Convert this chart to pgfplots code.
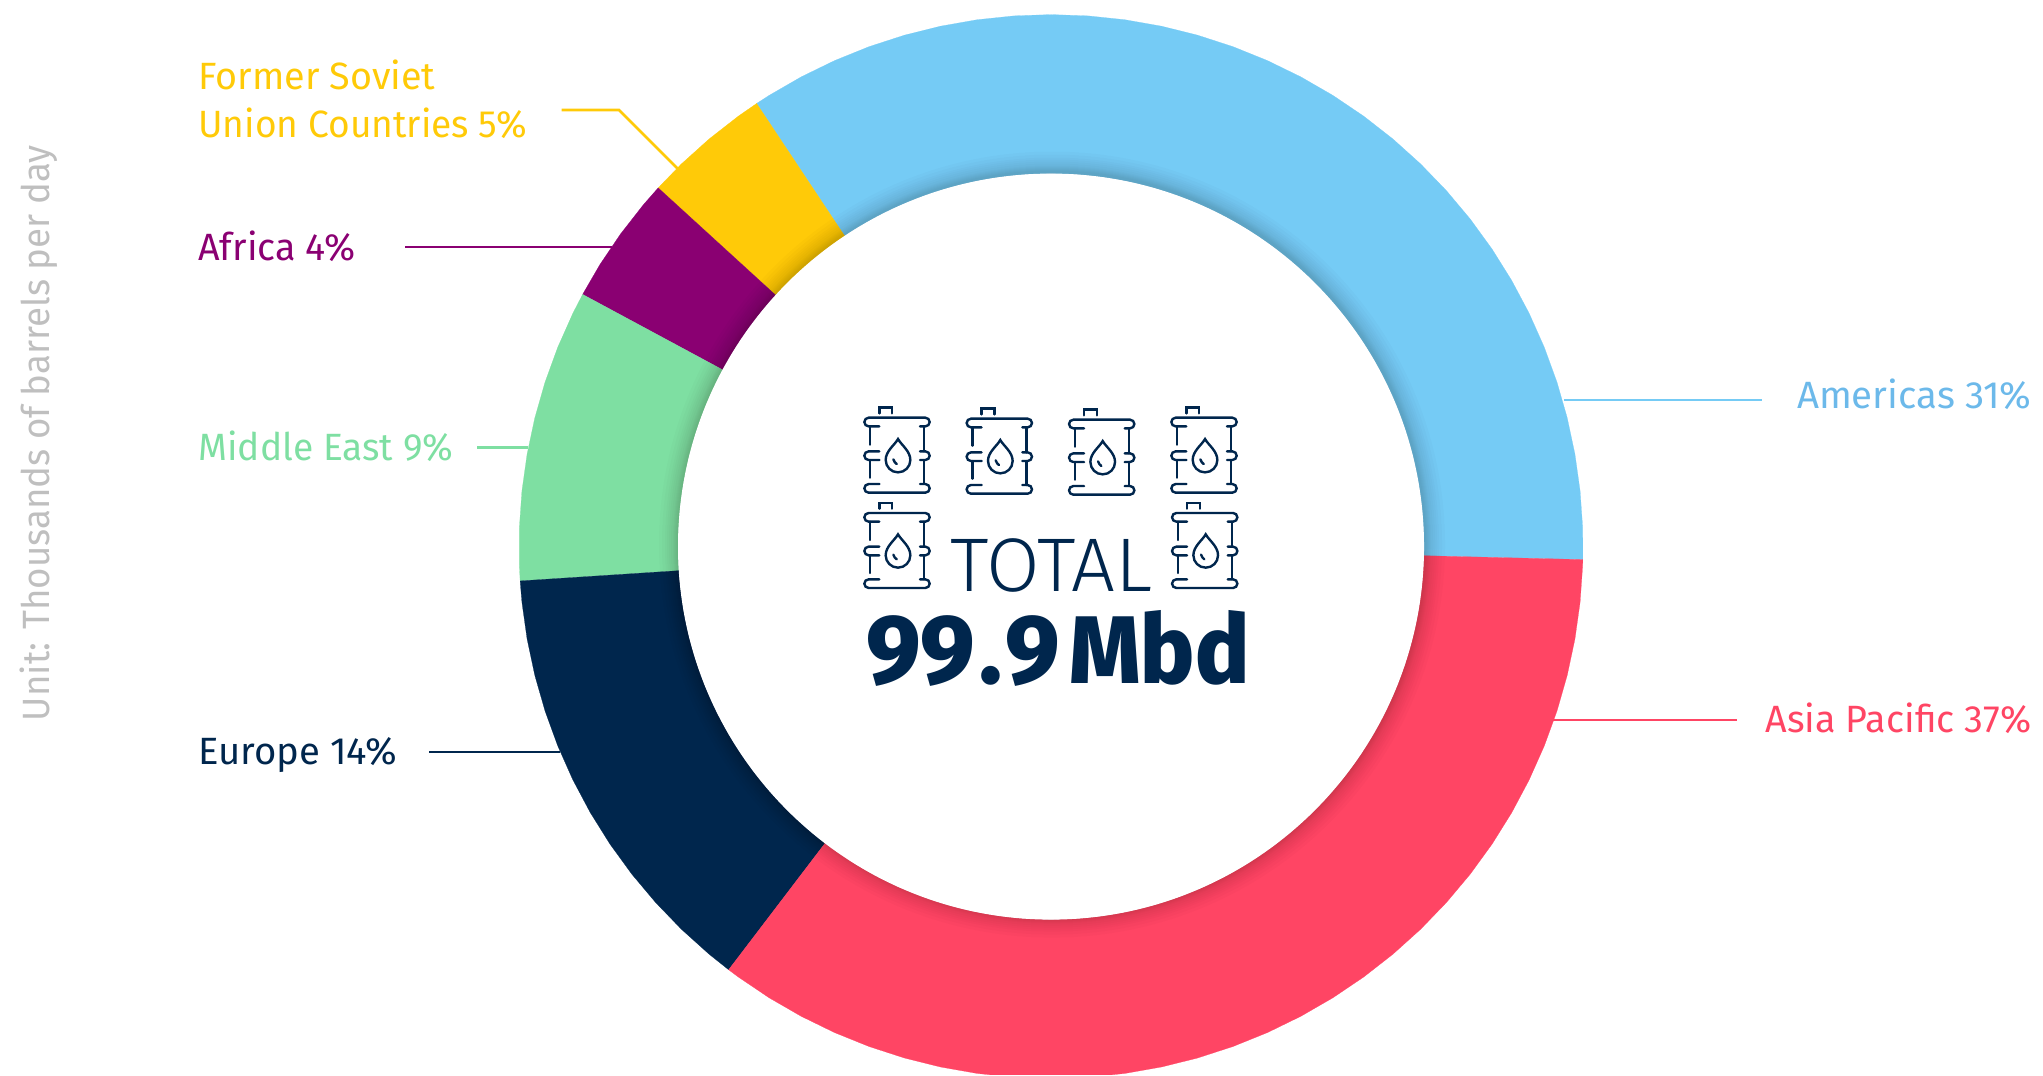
\documentclass[border=0pt]{standalone}
\usepackage{pgfplots}
\pgfplotsset{compat=1.18}
\usepackage{fontspec}
\setmainfont{Fira Sans}
\newfontfamily\firalight{Fira Sans Light}
\newfontfamily\firaheavy{Fira Sans ExtraBold}
\definecolor{cAm}{HTML}{75CBF5}
\definecolor{cAmT}{HTML}{6CB9EA}
\definecolor{cAs}{HTML}{FF4564}
\definecolor{cFs}{HTML}{FFCA08}
\definecolor{cAf}{HTML}{8A0072}
\definecolor{cMe}{HTML}{7EDFA2}
\definecolor{cEu}{HTML}{00264D}
\definecolor{cGr}{HTML}{BFBFBF}
\newcommand\lab[5]{\node[anchor=#1,inner sep=0pt,text=#2] at (#3) {\resizebox{#4pt}{\height}{\fontsize{19}{22}\selectfont #5}};}
\newcommand\barrel[2]{\begin{scope}[shift={(#1,#2)},x=0.16667pt,y=-0.16667pt,line width=1.2pt,cEu,line cap=round]
\draw (46,17)--(46,0)--(84,0)--(84,17);
\draw (46,56)--(14,56) arc[start angle=90,end angle=270,radius=13]--(184,30) arc[start angle=-90,end angle=90,radius=13]--(168,56);
\draw (18,56)--(18,111) (18,157)--(18,210);
\draw (46,131)--(14,131) arc[start angle=-90,end angle=-270,radius=13]--(46,157);
\draw (168,131)--(184,131) arc[start angle=-90,end angle=90,radius=13]--(168,157);
\draw (46,229)--(14,229) arc[start angle=-90,end angle=-270,radius=13]--(184,255) arc[start angle=90,end angle=-90,radius=13]--(168,229);
\draw (180,56)--(180,131) (180,157)--(180,229);
\draw (102,94) .. controls (92,112) and (65,130) .. (65,157) arc[start angle=180,end angle=0,radius=37] .. controls (139,130) and (112,112) .. (102,94) -- cycle;
\draw (88,155) .. controls (90,162) and (94,166) .. (98,169);
\end{scope}}
\begin{document}
\begin{tikzpicture}
\useasboundingbox (0,0) rectangle (1021.5pt,537.5pt);
\begin{axis}[at={(0,0)},anchor=south west,x=0.5pt,y=0.5pt,xmin=-1051,xmax=992,ymin=-528.4,ymax=546.6,hide axis,clip=true,data cs=polar]
% Americas
\addplot[fill=cAm,draw=cAm,line width=0.1pt] coordinates {(-1.4,532)(2,532)(6,532)(10,532)(14,532)(18,532)(22,532)(26,532)(30,532)(34,532)(38,532)(42,532)(46,532)(50,532)(54,532)(58,532)(62,532)(66,532)(70,532)(74,532)(78,532)(82,532)(86,532)(90,532)(94,532)(98,532)(102,532)(106,532)(110,532)(114,532)(118,532)(122,532)(123.6,532)
(123.6,373)(122,373)(118,373)(114,373)(110,373)(106,373)(102,373)(98,373)(94,373)(90,373)(86,373)(82,373)(78,373)(74,373)(70,373)(66,373)(62,373)(58,373)(54,373)(50,373)(46,373)(42,373)(38,373)(34,373)(30,373)(26,373)(22,373)(18,373)(14,373)(10,373)(6,373)(2,373)(-1.4,373)} --cycle;
% Former Soviet Union
\addplot[fill=cFs,draw=cFs,line width=0.1pt] coordinates {(123.6,532)(126,532)(130,532)(134,532)(137.6,532)(137.6,373)(134,373)(130,373)(126,373)(123.6,373)} --cycle;
% Africa
\addplot[fill=cAf,draw=cAf,line width=0.1pt] coordinates {(137.6,532)(140,532)(144,532)(148,532)(151.7,532)(151.7,373)(148,373)(144,373)(140,373)(137.6,373)} --cycle;
% Middle East
\addplot[fill=cMe,draw=cMe,line width=0.1pt] coordinates {(151.7,532)(154,532)(158,532)(162,532)(166,532)(170,532)(174,532)(178,532)(182,532)(183.7,532)(183.7,373)(182,373)(178,373)(174,373)(170,373)(166,373)(162,373)(158,373)(154,373)(151.7,373)} --cycle;
% Europe
\addplot[fill=cEu,draw=cEu,line width=0.1pt] coordinates {(183.7,532)(186,532)(190,532)(194,532)(198,532)(202,532)(206,532)(210,532)(214,532)(218,532)(222,532)(226,532)(230,532)(232.7,532)(232.7,373)(230,373)(226,373)(222,373)(218,373)(214,373)(210,373)(206,373)(202,373)(198,373)(194,373)(190,373)(186,373)(183.7,373)} --cycle;
% Asia Pacific
\addplot[fill=cAs,draw=cAs,line width=0.1pt] coordinates {(232.7,532)(234,532)(238,532)(242,532)(246,532)(250,532)(254,532)(258,532)(262,532)(266,532)(270,532)(274,532)(278,532)(282,532)(286,532)(290,532)(294,532)(298,532)(302,532)(306,532)(310,532)(314,532)(318,532)(322,532)(326,532)(330,532)(334,532)(338,532)(342,532)(346,532)(350,532)(354,532)(358,532)(358.6,532)
(358.6,373)(358,373)(354,373)(350,373)(346,373)(342,373)(338,373)(334,373)(330,373)(326,373)(322,373)(318,373)(314,373)(310,373)(306,373)(302,373)(298,373)(294,373)(290,373)(286,373)(282,373)(278,373)(274,373)(270,373)(266,373)(262,373)(258,373)(254,373)(250,373)(246,373)(242,373)(238,373)(234,373)(232.7,373)} --cycle;
% inner shadow
\foreach \r in {1,2,3,4,5,6,8,10,12,14,17,20}{\edef\tmp{\noexpand\fill[black,opacity=0.014] (axis cs:1,2) circle[radius=373+\r];}\tmp}
\fill[white] (axis cs:0,0) circle[radius=373];
% leader lines
\addplot[cFs,line width=1.35pt,data cs=cart] coordinates {(-489.4,436.6)(-432,436.6)(-373.5,378.1)};
\addplot[cAf,line width=1.35pt,data cs=cart] coordinates {(-646,299.6)(-439,299.6)};
\addplot[cMe,line width=1.35pt,data cs=cart] coordinates {(-574,99.1)(-523,99.1)};
\addplot[cEu,line width=1.35pt,data cs=cart] coordinates {(-622,-205.4)(-491,-205.4)};
\addplot[cAm,line width=1.35pt,data cs=cart] coordinates {(513,146.6)(711,146.6)};
\addplot[cAs,line width=1.35pt,data cs=cart] coordinates {(502,-173.4)(686,-173.4)};
\end{axis}
\begin{scope}[shift={(0,537.5pt)},x=0.5pt,y=-0.5pt]
\lab{base west}{cFs}{198,90}{118.5}{Former Soviet}
\lab{base west}{cFs}{198,138}{164.5}{Union Countries 5\%}
\lab{base west}{cAf}{198,260.5}{78.5}{Africa 4\%}
\lab{base west}{cMe}{198,461}{127.5}{Middle East 9\%}
\lab{base west}{cEu}{198,765}{99.5}{Europe 14\%}
\lab{base east}{cAmT}{2032,409}{117.3}{Americas 31\%}
\lab{base east}{cAs}{2032,733}{133}{Asia Pacific 37\%}
\node[anchor=base west,inner sep=0pt,text=cGr,rotate=90] at (49.5,721.5) {\resizebox{288pt}{\height}{\fontsize{19}{22}\selectfont Unit: Thousands of barrels per day}};
\node[anchor=base west,inner sep=0pt,text=cEu] at (950,591.7) {\resizebox{101pt}{\height}{\fontsize{38}{42}\selectfont\firalight TOTAL}};
\node[anchor=base west,inner sep=0pt,text=cEu] at (866,684) {\resizebox{97pt}{\height}{\fontsize{49}{56}\selectfont\firaheavy 99\kern2pt.\kern2pt 9}};
\node[anchor=base west,inner sep=0pt,text=cEu] at (1069,684) {\resizebox{90pt}{\height}{\fontsize{48}{56}\selectfont\firaheavy Mbd}};
\barrel{864}{407.7}
\barrel{966.3}{408.7}
\barrel{1068.7}{409.7}
\barrel{1171}{407.7}
\barrel{864}{503}
\barrel{1171.7}{503}
\end{scope}
\end{tikzpicture}
\end{document}
